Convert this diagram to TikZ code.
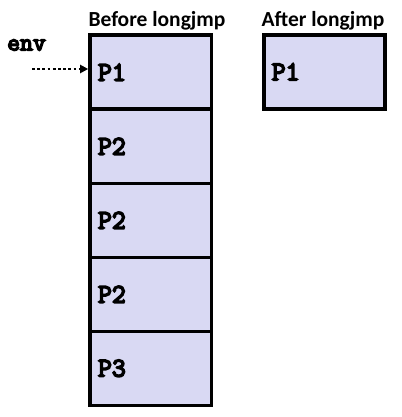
\documentclass[tikz,border=0pt]{standalone}
\usepackage{fontspec}
\newfontfamily\titlefont{Carlito}
\newfontfamily\codefont{Latin Modern Mono}[FakeBold=6]
\usetikzlibrary{arrows.meta}
\usetikzlibrary{positioning}
\definecolor{slotfill}{RGB}{217,217,243}

\tikzset{
  slot/.style={draw, line width=3.6pt, fill=slotfill, minimum width=121.5pt,
    minimum height=74pt, text width=105.5pt, inner xsep=8pt, outer sep=0pt, align=left,
    font=\codefont\fontsize{27}{27}\selectfont},
  heading/.style={anchor=base, inner sep=0pt, font=\titlefont\bfseries\fontsize{21.5}{21.5}\selectfont}
}

\begin{document}
\begin{tikzpicture}[x=1pt,y=-1pt]
  \useasboundingbox (0,0) rectangle (401,417);
  % stack before the jump
  \node [slot] (p1) at (150.75,72.3) {P1};
  \node [slot, below=0pt of p1] (p2a) {P2};
  \node [slot, below=0pt of p2a] (p2b) {P2};
  \node [slot, below=0pt of p2b] (p2c) {P2};
  \node [slot, below=0pt of p2c] (p3) {P3};
  % stack after the jump
  \node [slot] (q1) at (324.5,71.8) {P1};
  \node [heading] (before) at (157,27) {Before longjmp};
  \node [heading] (after) at (323,27) {After longjmp};
  % saved environment
  \node [anchor=west, inner sep=0pt, font=\codefont\fontsize{25}{25}\selectfont] (env) at (7,45) {env};
  \coordinate (envtail) at (32,69);
  \draw [line width=2.8pt, dash pattern=on 2.8pt off 2.4pt, -{Triangle[length=8pt,width=8pt]}, shorten >=1.8pt]
    (envtail) -- (envtail -| p1.west);
\end{tikzpicture}
\end{document}
